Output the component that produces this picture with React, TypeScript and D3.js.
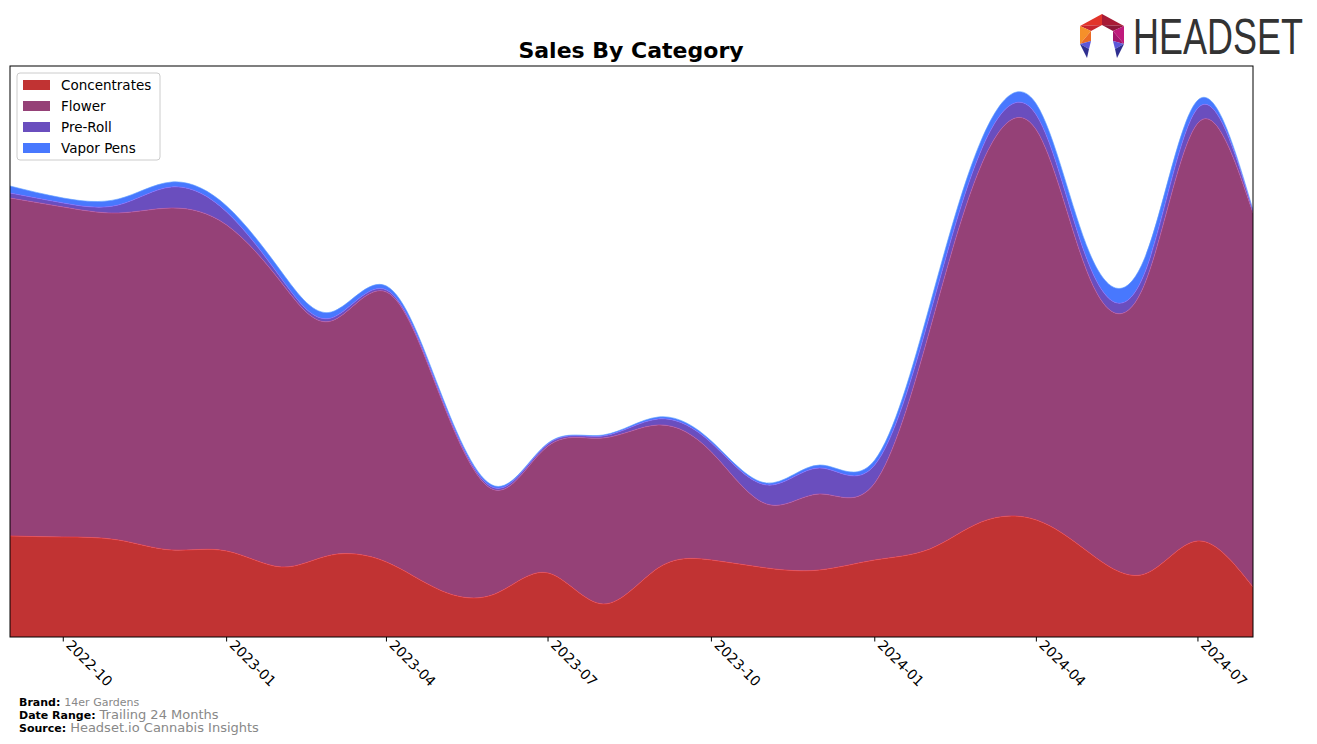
import { useEffect, useRef } from 'react';
import * as d3 from 'd3';

// monthly sales, 2022-09 .. 2024-08
const months = [
  '2022-09', '2022-10', '2022-11', '2022-12', '2023-01', '2023-02', '2023-03', '2023-04',
  '2023-05', '2023-06', '2023-07', '2023-08', '2023-09', '2023-10', '2023-11', '2023-12',
  '2024-01', '2024-02', '2024-03', '2024-04', '2024-05', '2024-06', '2024-07', '2024-08',
];
const concentrates = [101, 100, 97, 87, 86, 70, 82, 75, 47, 43, 64, 33, 69, 77, 69, 67, 77, 88, 115, 117, 84, 63, 96, 50];
const flower = [338, 330, 327, 342, 326, 284, 234, 270, 195, 104, 127, 166, 143, 108, 64, 76, 77, 219, 357, 390, 275, 290, 418, 374];
const preRoll = [5, 4, 8, 21, 13, 4, 3, 2, 2, 2, 2, 2, 6, 9, 19, 26, 18, 15, 15, 15, 12, 11, 15, 2];
const vaporPens = [7, 5, 6, 5, 6, 7, 6, 4, 3, 2, 1, 1, 2, 2, 2, 3, 5, 10, 10, 11, 13, 15, 8, 1];

const categories = ['Concentrates', 'Flower', 'Pre-Roll', 'Vapor Pens'];
const colors = ['#c13333', '#954177', '#6a4ebe', '#4878fe'];
const tickMonths = ['2022-10', '2023-01', '2023-04', '2023-07', '2023-10', '2024-01', '2024-04', '2024-07'];
const yMax = 571;

const App = () => {
  const svgRef = useRef<SVGSVGElement>(null);

  useEffect(() => {
    const svg = d3.select(svgRef.current);
    svg.selectAll('*').remove();

    const width = 1317;
    const height = 744;
    const plot = { left: 10, right: 1253, top: 66, bottom: 637 };
    const font = 'DejaVu Sans, sans-serif';

    const parse = d3.timeParse('%Y-%m');
    const rows = months.map((m, i) => ({
      date: parse(m) as Date,
      Concentrates: concentrates[i],
      Flower: flower[i],
      'Pre-Roll': preRoll[i],
      'Vapor Pens': vaporPens[i],
    }));

    const x = d3
      .scaleTime()
      .domain(d3.extent(rows, (d) => d.date) as [Date, Date])
      .range([plot.left, plot.right]);
    const y = d3.scaleLinear().domain([0, yMax]).range([plot.bottom, plot.top]);

    const series = d3.stack<any>().keys(categories)(rows);

    svg.attr('width', width).attr('height', height).style('font-family', font);

    svg.append('rect').attr('width', width).attr('height', height).attr('fill', '#fff');

    svg
      .append('defs')
      .append('clipPath')
      .attr('id', 'plotclip')
      .append('rect')
      .attr('x', plot.left)
      .attr('y', plot.top)
      .attr('width', plot.right - plot.left)
      .attr('height', plot.bottom - plot.top);

    const area = d3
      .area<any>()
      .x((d) => x(d.data.date))
      .y0((d) => y(d[0]))
      .y1((d) => y(d[1]))
      .curve(d3.curveNatural);

    const topLine = d3
      .line<any>()
      .x((d) => x(d.data.date))
      .y((d) => y(d[1]))
      .curve(d3.curveNatural);

    const g = svg.append('g').attr('clip-path', 'url(#plotclip)');
    series.forEach((s, i) => {
      g.append('path').attr('d', area(s)).attr('fill', colors[i]);
    });
    series.forEach((s, i) => {
      g.append('path')
        .attr('d', topLine(s))
        .attr('fill', 'none')
        .attr('stroke', d3.color(colors[i])!.brighter(0.8).formatHex())
        .attr('stroke-width', 0.8)
        .attr('opacity', 0.8);
    });

    // frame
    svg
      .append('rect')
      .attr('x', plot.left)
      .attr('y', plot.top)
      .attr('width', plot.right - plot.left)
      .attr('height', plot.bottom - plot.top)
      .attr('fill', 'none')
      .attr('stroke', '#000')
      .attr('stroke-width', 1);

    // x axis
    const ticks = tickMonths.map((m) => parse(m) as Date);
    const xAxis = svg.append('g');
    ticks.forEach((t) => {
      const tx = x(t);
      xAxis
        .append('line')
        .attr('x1', tx)
        .attr('x2', tx)
        .attr('y1', plot.bottom)
        .attr('y2', plot.bottom + 4.5)
        .attr('stroke', '#000');
      xAxis
        .append('text')
        .attr('transform', `translate(${tx + 2},${plot.bottom + 9}) rotate(45)`)
        .attr('font-size', 14)
        .attr('fill', '#000')
        .text(d3.timeFormat('%Y-%m')(t));
    });

    // title
    svg
      .append('text')
      .attr('x', 631)
      .attr('y', 58)
      .attr('text-anchor', 'middle')
      .attr('font-size', 22)
      .attr('font-weight', 'bold')
      .text('Sales By Category');

    // legend
    const legend = svg.append('g');
    legend
      .append('rect')
      .attr('x', 17)
      .attr('y', 73)
      .attr('width', 143)
      .attr('height', 87)
      .attr('rx', 3)
      .attr('fill', '#fff')
      .attr('fill-opacity', 0.8)
      .attr('stroke', '#ccc');
    categories.forEach((c, i) => {
      const ly = 80 + i * 21;
      legend
        .append('rect')
        .attr('x', 23)
        .attr('y', ly)
        .attr('width', 27)
        .attr('height', 10)
        .attr('fill', colors[i]);
      legend
        .append('text')
        .attr('x', 61)
        .attr('y', ly + 10)
        .attr('font-size', 13.5)
        .text(c);
    });

    // footer
    const footer = [
      ['Brand:', '14er Gardens', 11, 706],
      ['Date Range:', 'Trailing 24 Months', 13, 719],
      ['Source:', 'Headset.io Cannabis Insights', 13, 732],
    ];
    footer.forEach(([label, value, size, fy]) => {
      const t = svg.append('text').attr('x', 19).attr('y', fy as number);
      t.append('tspan').attr('font-size', 11).attr('font-weight', 'bold').text(label as string);
      t.append('tspan').attr('font-size', size as number).attr('fill', '#888').attr('dx', 4).text(value as string);
    });

    // logo mark: faceted hexagon ring with two legs
    const logo = svg.append('g').attr('transform', 'translate(1102,36)');
    const facets: [number[][], string][] = [
      [[[-22, -10], [0, -22], [0, -11]], '#e2342a'],
      [[[-22, -10], [0, -11], [-11, -5]], '#c8242e'],
      [[[0, -22], [22, -10], [0, -11]], '#a81b36'],
      [[[0, -11], [22, -10], [11, -5]], '#8c1838'],
      [[[22, -10], [22, 8], [11, -5]], '#c01a7c'],
      [[[11, -5], [22, 8], [11, 5]], '#a3156c'],
      [[[-22, -10], [-11, -5], [-22, 8]], '#f5902a'],
      [[[-11, -5], [-11, 5], [-22, 8]], '#ea6a24'],
      [[[11, 5], [22, 8], [13, 13]], '#5c57d8'],
      [[[13, 13], [22, 8], [15, 22]], '#2f2f90'],
      [[[-11, 5], [-22, 8], [-13, 13]], '#5c57d8'],
      [[[-13, 13], [-22, 8], [-15, 22]], '#2f2f90'],
    ];
    facets.forEach(([pts, c]) => {
      logo
        .append('path')
        .attr('d', 'M' + pts.map((p) => p.join(',')).join('L') + 'Z')
        .attr('fill', c);
    });
    svg
      .append('text')
      .attr('transform', 'translate(1133,54) scale(0.72,1)')
      .attr('font-size', 50)
      .attr('font-family', 'Liberation Sans, sans-serif')
      .attr('fill', '#333')
      .text('HEADSET');
  }, []);

  return (
    <div style={{ position: 'absolute', left: 0, top: 0 }}>
      <svg ref={svgRef}></svg>
    </div>
  );
};

export default App;
